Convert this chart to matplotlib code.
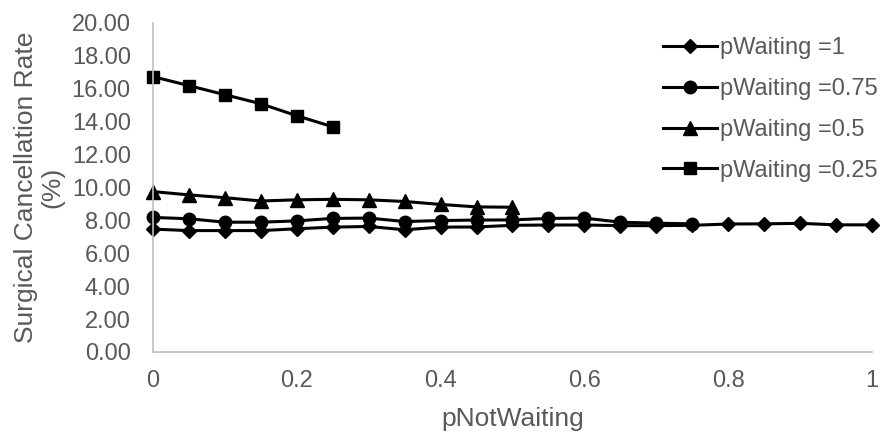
import matplotlib.pyplot as plt
import numpy as np

plt.rcParams['font.family'] = ['Liberation Sans', 'DejaVu Sans']

# pNotWaiting values (step 0.05)
p_not_waiting = np.round(np.arange(0, 21) * 0.05, 2)

rate_pw_1 = [7.47, 7.38, 7.38, 7.38, 7.49, 7.59, 7.63, 7.43, 7.59, 7.60, 7.70,
             7.72, 7.72, 7.68, 7.68, 7.70, 7.78, 7.79, 7.82, 7.73, 7.73]
rate_pw_075 = [8.18, 8.10, 7.89, 7.89, 7.97, 8.12, 8.14, 7.93, 7.99, 8.02, 8.03,
               8.12, 8.14, 7.89, 7.83, 7.79]
rate_pw_05 = [9.75, 9.55, 9.38, 9.18, 9.25, 9.28, 9.25, 9.15, 8.97, 8.82, 8.80]
rate_pw_025 = [16.74, 16.19, 15.64, 15.09, 14.36, 13.69]

series = [
    ("pWaiting =1", rate_pw_1, "D", 7),
    ("pWaiting =0.75", rate_pw_075, "o", 9),
    ("pWaiting =0.5", rate_pw_05, "^", 10),
    ("pWaiting =0.25", rate_pw_025, "s", 9),
]

grey = "#595959"
fs = 17
title_fs = 19

fig = plt.figure(figsize=(8.83, 4.32), dpi=100)
ax = fig.add_axes([0.1733, 0.1852, 0.8142, 0.7616])

for label, vals, mk, ms in series:
    ax.plot(p_not_waiting[:len(vals)], vals, color="black", lw=2.2,
            marker=mk, markersize=ms, label=label, clip_on=False)

ax.set_xlim(0, 1)
ax.set_ylim(0, 20)
ax.set_xticks(np.arange(0, 1.01, 0.2))
ax.set_xticklabels(["0", "0.2", "0.4", "0.6", "0.8", "1"])
ax.set_yticks(np.arange(0, 20.01, 2))
ax.set_yticklabels([f"{v:.2f}" for v in np.arange(0, 20.01, 2)])
ax.tick_params(length=0, labelsize=fs, labelcolor=grey)
ax.tick_params(axis="y", pad=16)
ax.tick_params(axis="x", pad=13)

for side in ["top", "right"]:
    ax.spines[side].set_visible(False)
for side in ["left", "bottom"]:
    ax.spines[side].set_color("#bfbfbf")
    ax.spines[side].set_linewidth(1.2)

ax.set_xlabel("pNotWaiting", fontsize=title_fs, color=grey, labelpad=11)
ax.set_ylabel("Surgical Cancellation Rate\n(%)", fontsize=title_fs, color=grey,
              labelpad=5, linespacing=1.15)

leg = ax.legend(loc="upper left", bbox_to_anchor=(663 / 883, 1 - 37 / 432),
                bbox_transform=fig.transFigure, frameon=False,
                fontsize=fs, handlelength=2.3, handletextpad=0.13,
                labelspacing=0.8, borderpad=0, borderaxespad=0,
                labelcolor=grey)

fig.savefig("out.png", dpi=100)
